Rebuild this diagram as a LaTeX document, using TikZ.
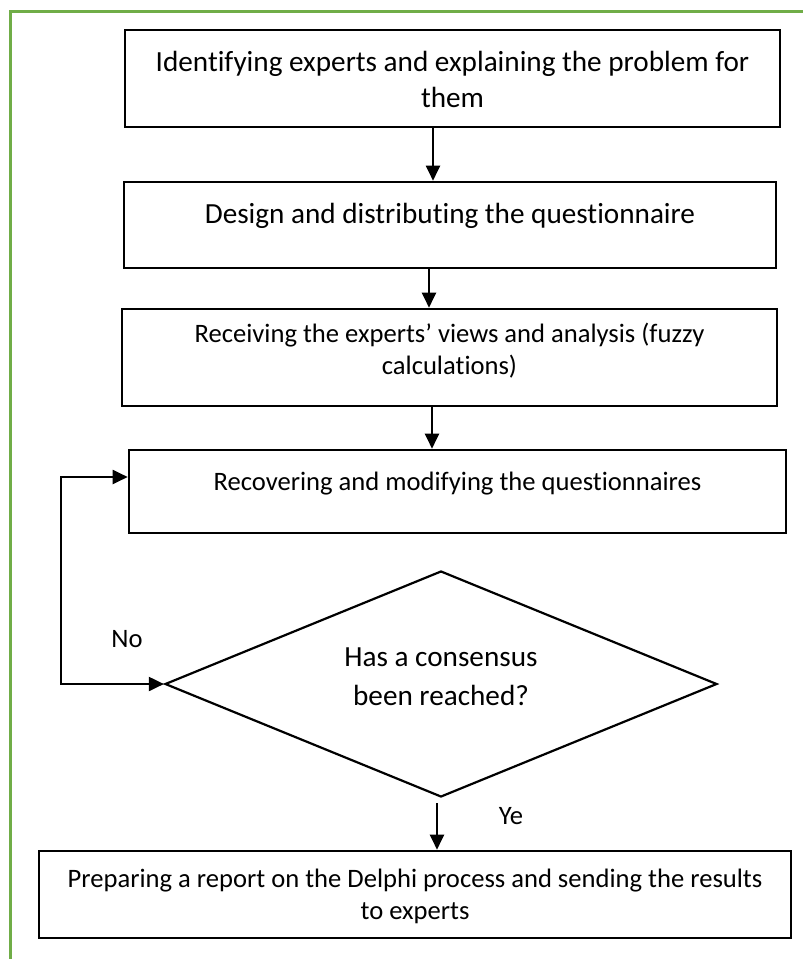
\documentclass[tikz,border=0pt]{standalone}
\usepackage{fontspec}
\setmainfont{Carlito}[RawFeature={-liga;-clig;-calt;-dlig}]
\usetikzlibrary{arrows.meta,shapes.geometric}
\definecolor{framegreen}{HTML}{70AD47}
\newcommand{\fontL}{\fontsize{29.2pt}{36pt}\selectfont}
\newcommand{\fontD}{\fontsize{29.2pt}{39pt}\selectfont}
\newcommand{\fontS}{\fontsize{26.6pt}{32pt}\selectfont}
% #1 width, #2 height, #3 top gap, #4 font, #5 text
\newcommand{\bxt}[5]{\parbox[c][#2][t]{#1}{\vspace*{#3}#4\centering\strut #5\par}}
\tikzset{
  stepbox/.style={draw=black, line width=2.6pt, rectangle, inner sep=0pt, fill=white},
  decision/.style={draw=black, line width=2.2pt, diamond, aspect=2.44, inner sep=0pt,
    minimum width=552pt, minimum height=226pt},
  arr/.style={draw=black, line width=2pt, -{Triangle[length=15pt,width=14pt]}},
  arrboth/.style={draw=black, line width=2pt, {Triangle[length=15pt,width=14pt]}-{Triangle[length=15pt,width=14pt]}},
  lbl/.style={inner sep=0pt, font=\fontS},
  frameline/.style={draw=framegreen, line width=3pt}
}
\begin{document}
\begin{tikzpicture}[x=1pt,y=-1pt]
\useasboundingbox (0,0) rectangle (803,959);
\fill[white] (0,0) rectangle (803,959);
% frame
\coordinate (fTR) at (806,11);
\coordinate (fTL) at (10,11);
\coordinate (fBL) at (10,962);
\draw[frameline] (fTR) -- (fTL) -- (fBL);

% boxes
\node[stepbox] (b1) at (452.5,78.5) {\bxt{655pt}{97pt}{15.8pt}{\fontL}{Identifying experts and explaining the problem for\\them}};
\node[stepbox] (b2) at (450,225) {\bxt{652pt}{86pt}{15.8pt}{\fontL}{Design and distributing the questionnaire}};
\node[stepbox] (b3) at (449.5,357.5) {\bxt{655pt}{97pt}{10.6pt}{\fontS}{Receiving the experts’ views and analysis (fuzzy\\calculations)}};
\node[stepbox] (b4) at (457.5,491.5) {\bxt{657pt}{83pt}{17.6pt}{\fontS}{Recovering and modifying the questionnaires}};
\node[decision] (d) at (441,684) {\parbox[c][90pt][t]{230pt}{\fontD\centering\strut Has a consensus\\been reached?\par}};
\node[stepbox] (b5) at (415,894.5) {\bxt{752pt}{87pt}{13.6pt}{\fontS}{Preparing a report on the Delphi process and sending the results\\to experts}};

% labels
\node[lbl] (no) at (127,639) {No};
\node[lbl] (ye) at (511,816) {Ye};

% connector x positions
\coordinate (x1) at (433,0);
\coordinate (x2) at (429,0);
\coordinate (x3) at (432,0);
\coordinate (x4) at (437,0);
\coordinate (lc) at (61,477);

\draw[arr] (b1.south -| x1) -- (b2.north -| x1);
\draw[arr] (b2.south -| x2) -- (b3.north -| x2);
\draw[arr] (b3.south -| x3) -- (b4.north -| x3);
\draw[arr, shorten <=5pt] (d.south -| x4) -- (b5.north -| x4);
\draw[arrboth] (d.west) -| (lc) -- (b4.west |- lc);
\end{tikzpicture}
\end{document}
